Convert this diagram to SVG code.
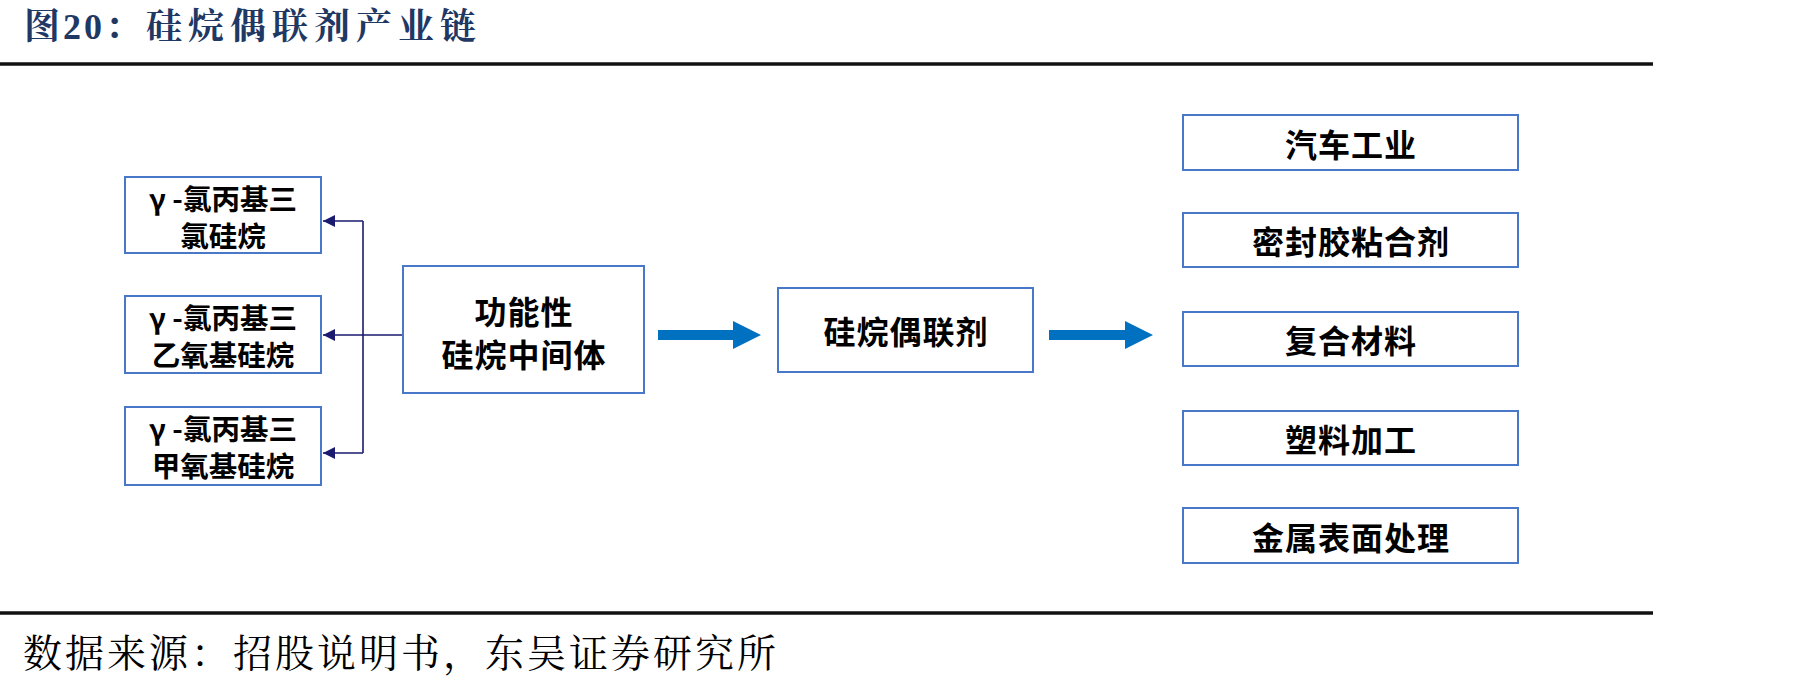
<svg xmlns="http://www.w3.org/2000/svg" width="1807" height="686" viewBox="0 0 1807 686">
  <style>
    .box { fill: #ffffff; stroke: #4A78C8; stroke-width: 2; }
    .lbl { font-family: "Noto Sans CJK SC", "Noto Sans", sans-serif; font-weight: bold; fill: #000; text-anchor: middle; dominant-baseline: central; }
    .small { font-size: 28.5px; }
    .big { font-size: 32px; letter-spacing: 1px; }
    .title { font-family: "Liberation Serif", "Noto Serif CJK SC", "Noto Sans CJK SC", serif; font-weight: bold; fill: #1F3864; font-size: 36px; }
    .note { font-family: "Liberation Serif", "Noto Serif CJK SC", "Noto Sans CJK SC", serif; fill: #000; font-size: 39px; letter-spacing: 3px; }
    .thin { stroke: #1A1A70; stroke-width: 1.6; fill: none; }
    .thick { fill: #0070C0; }
  </style>
  <defs>
    <marker id="tri" viewBox="0 0 10 10" refX="10" refY="5" markerWidth="14" markerHeight="12" markerUnits="userSpaceOnUse" orient="auto">
      <path d="M0,0 L10,5 L0,10 Z" fill="#1A1A70"/>
    </marker>
  </defs>

  <rect width="1807" height="686" fill="#ffffff"/>

  <!-- heading and rules -->
  <text class="title" x="24" y="39" letter-spacing="3">图20：</text>
  <text class="title" x="146" y="39" letter-spacing="6">硅烷偶联剂产业链</text>
  <line x1="0" y1="64" x2="1653" y2="64" stroke="#111" stroke-width="3.5"/>
  <line x1="0" y1="613" x2="1653" y2="613" stroke="#111" stroke-width="3.5"/>
  <text class="note" x="23" y="667">数据来源：招股说明书，东吴证券研究所</text>

  <!-- connectors -->
  <g id="connectors">
    <path class="thin" d="M403,335 L323,335" marker-end="url(#tri)"/>
    <path class="thin" d="M363,221 L363,453"/>
    <path class="thin" d="M363,221 L323,221" marker-end="url(#tri)"/>
    <path class="thin" d="M363,453 L323,453" marker-end="url(#tri)"/>
    <path class="thick" d="M658,330 L733,330 L733,321 L761,335 L733,349 L733,340 L658,340 Z"/>
    <path class="thick" d="M1049,330 L1125,330 L1125,321 L1153,335 L1125,349 L1125,340 L1049,340 Z"/>
  </g>

  <!-- raw material nodes -->
  <g id="n-chloropropyl-trichlorosilane">
    <rect class="box" x="125" y="177" width="196" height="76"/>
    <text class="lbl small" x="223" y="197">γ -氯丙基三</text>
    <text class="lbl small" x="223" y="234">氯硅烷</text>
  </g>
  <g id="n-chloropropyl-triethoxysilane">
    <rect class="box" x="125" y="296" width="196" height="77"/>
    <text class="lbl small" x="223" y="316">γ -氯丙基三</text>
    <text class="lbl small" x="223" y="353">乙氧基硅烷</text>
  </g>
  <g id="n-chloropropyl-trimethoxysilane">
    <rect class="box" x="125" y="407" width="196" height="78"/>
    <text class="lbl small" x="223" y="427">γ -氯丙基三</text>
    <text class="lbl small" x="223" y="464">甲氧基硅烷</text>
  </g>

  <!-- intermediate -->
  <g id="n-intermediate">
    <rect class="box" x="403" y="266" width="241" height="127"/>
    <text class="lbl big" x="524" y="310">功能性</text>
    <text class="lbl big" x="524" y="353">硅烷中间体</text>
  </g>

  <!-- product -->
  <g id="n-coupling-agent">
    <rect class="box" x="778" y="288" width="255" height="84"/>
    <text class="lbl big" x="906" y="330">硅烷偶联剂</text>
  </g>

  <!-- applications -->
  <g id="n-auto">
    <rect class="box" x="1183" y="115" width="335" height="55"/>
    <text class="lbl big" x="1351" y="143">汽车工业</text>
  </g>
  <g id="n-sealant">
    <rect class="box" x="1183" y="213" width="335" height="54"/>
    <text class="lbl big" x="1351" y="240">密封胶粘合剂</text>
  </g>
  <g id="n-composite">
    <rect class="box" x="1183" y="312" width="335" height="54"/>
    <text class="lbl big" x="1351" y="339">复合材料</text>
  </g>
  <g id="n-plastics">
    <rect class="box" x="1183" y="411" width="335" height="54"/>
    <text class="lbl big" x="1351" y="438">塑料加工</text>
  </g>
  <g id="n-metal">
    <rect class="box" x="1183" y="508" width="335" height="55"/>
    <text class="lbl big" x="1351" y="536">金属表面处理</text>
  </g>
</svg>
